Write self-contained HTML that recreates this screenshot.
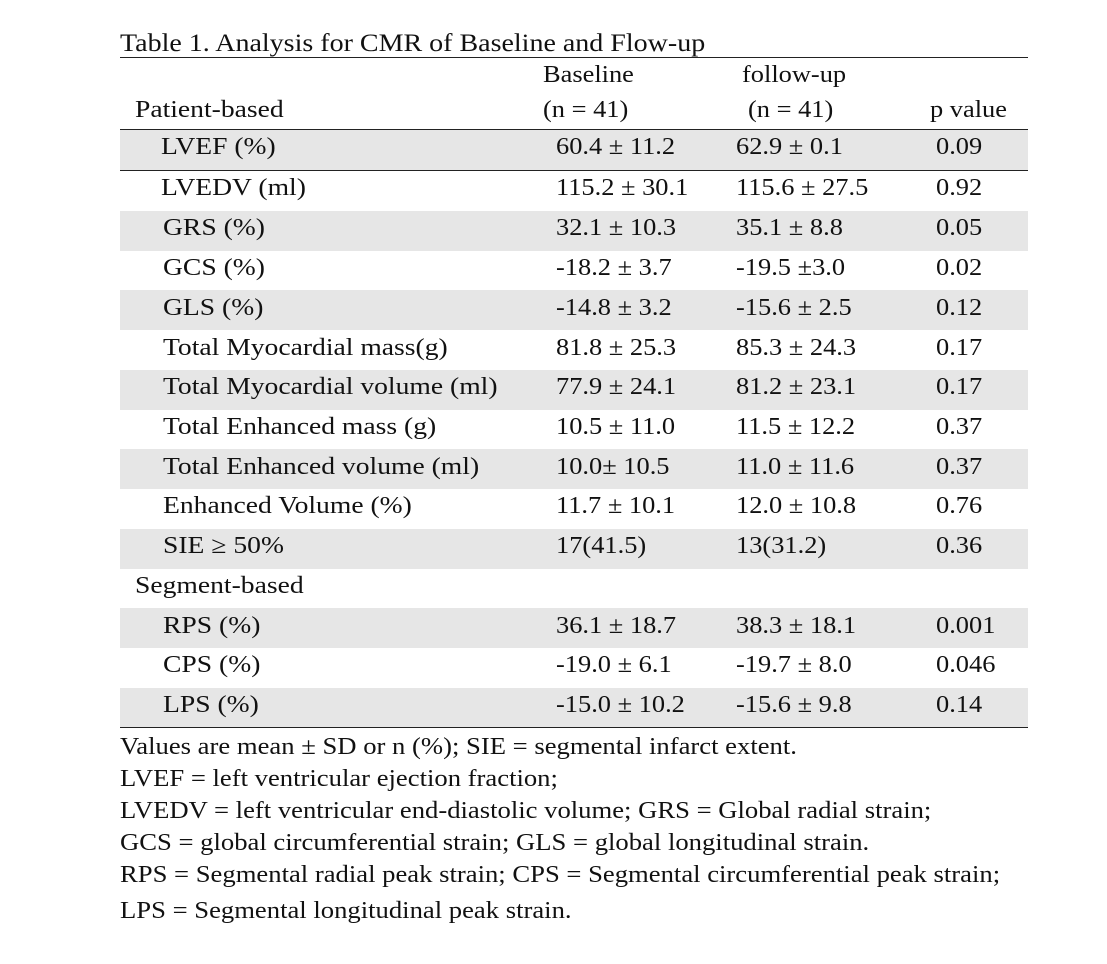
<!DOCTYPE html>
<html><head><style>
body{margin:0;background:#fff;width:1107px;height:964px;position:relative;font-family:"Liberation Serif",serif;color:#111;overflow:hidden}
.t{position:absolute;font-size:24px;white-space:nowrap;line-height:1;transform:scaleX(1.1);transform-origin:0 0}
.l{transform:scaleX(1.15)}
.f{transform:scaleX(1.11)}
.sh{position:absolute;left:120px;width:908px;background:#e6e6e6}
.ln{position:absolute;left:120px;width:908px;height:1.3px;background:#222}
</style></head><body>
<div class="t" style="left:120px;top:31px;font-size:25px;transform:scaleX(1.12)">Table 1. Analysis for CMR of Baseline and Flow-up</div>
<div class="ln" style="top:57px"></div>
<div class="t" style="left:543px;top:63px">Baseline</div>
<div class="t" style="left:742px;top:63px">follow-up</div>
<div class="t l" style="left:135px;top:98px">Patient-based</div>
<div class="t" style="left:543px;top:98px">(n = 41)</div>
<div class="t" style="left:748px;top:98px">(n = 41)</div>
<div class="t" style="left:930px;top:98px">p value</div>
<div class="ln" style="top:129px"></div>
<div class="sh" style="top:130px;height:40px"></div>
<div class="ln" style="top:170px"></div>
<div class="sh" style="top:211px;height:40px"></div>
<div class="sh" style="top:290px;height:40px"></div>
<div class="sh" style="top:370px;height:40px"></div>
<div class="sh" style="top:449px;height:40px"></div>
<div class="sh" style="top:529px;height:40px"></div>
<div class="sh" style="top:608px;height:40px"></div>
<div class="sh" style="top:688px;height:39px"></div>
<div class="ln" style="top:727px"></div>

<div class="t l" style="left:161px;top:135px">LVEF (%)</div><div class="t" style="left:556px;top:135px">60.4 ± 11.2</div><div class="t" style="left:736px;top:135px">62.9 ± 0.1</div><div class="t" style="left:936px;top:135px">0.09</div>
<div class="t l" style="left:161px;top:176px">LVEDV (ml)</div><div class="t" style="left:556px;top:176px">115.2 ± 30.1</div><div class="t" style="left:736px;top:176px">115.6 ± 27.5</div><div class="t" style="left:936px;top:176px">0.92</div>
<div class="t l" style="left:163px;top:216px">GRS (%)</div><div class="t" style="left:556px;top:216px">32.1 ± 10.3</div><div class="t" style="left:736px;top:216px">35.1 ± 8.8</div><div class="t" style="left:936px;top:216px">0.05</div>
<div class="t l" style="left:163px;top:256px">GCS (%)</div><div class="t" style="left:556px;top:256px">-18.2 ± 3.7</div><div class="t" style="left:736px;top:256px">-19.5 ±3.0</div><div class="t" style="left:936px;top:256px">0.02</div>
<div class="t l" style="left:163px;top:296px">GLS (%)</div><div class="t" style="left:556px;top:296px">-14.8 ± 3.2</div><div class="t" style="left:736px;top:296px">-15.6 ± 2.5</div><div class="t" style="left:936px;top:296px">0.12</div>
<div class="t l" style="left:163px;top:336px">Total Myocardial mass(g)</div><div class="t" style="left:556px;top:336px">81.8 ± 25.3</div><div class="t" style="left:736px;top:336px">85.3 ± 24.3</div><div class="t" style="left:936px;top:336px">0.17</div>
<div class="t l" style="left:163px;top:375px">Total Myocardial volume (ml)</div><div class="t" style="left:556px;top:375px">77.9 ± 24.1</div><div class="t" style="left:736px;top:375px">81.2 ± 23.1</div><div class="t" style="left:936px;top:375px">0.17</div>
<div class="t l" style="left:163px;top:415px">Total Enhanced mass (g)</div><div class="t" style="left:556px;top:415px">10.5 ± 11.0</div><div class="t" style="left:736px;top:415px">11.5 ± 12.2</div><div class="t" style="left:936px;top:415px">0.37</div>
<div class="t l" style="left:163px;top:455px">Total Enhanced volume (ml)</div><div class="t" style="left:556px;top:455px">10.0± 10.5</div><div class="t" style="left:736px;top:455px">11.0 ± 11.6</div><div class="t" style="left:936px;top:455px">0.37</div>
<div class="t l" style="left:163px;top:494px">Enhanced Volume (%)</div><div class="t" style="left:556px;top:494px">11.7 ± 10.1</div><div class="t" style="left:736px;top:494px">12.0 ± 10.8</div><div class="t" style="left:936px;top:494px">0.76</div>
<div class="t l" style="left:163px;top:534px">SIE ≥ 50%</div><div class="t" style="left:556px;top:534px">17(41.5)</div><div class="t" style="left:736px;top:534px">13(31.2)</div><div class="t" style="left:936px;top:534px">0.36</div>
<div class="t l" style="left:135px;top:574px">Segment-based</div>
<div class="t l" style="left:163px;top:614px">RPS (%)</div><div class="t" style="left:556px;top:614px">36.1 ± 18.7</div><div class="t" style="left:736px;top:614px">38.3 ± 18.1</div><div class="t" style="left:936px;top:614px">0.001</div>
<div class="t l" style="left:163px;top:653px">CPS (%)</div><div class="t" style="left:556px;top:653px">-19.0 ± 6.1</div><div class="t" style="left:736px;top:653px">-19.7 ± 8.0</div><div class="t" style="left:936px;top:653px">0.046</div>
<div class="t l" style="left:163px;top:693px">LPS (%)</div><div class="t" style="left:556px;top:693px">-15.0 ± 10.2</div><div class="t" style="left:736px;top:693px">-15.6 ± 9.8</div><div class="t" style="left:936px;top:693px">0.14</div>

<div class="t f" style="left:120px;top:735px">Values are mean ± SD or n (%); SIE = segmental infarct extent.</div>
<div class="t f" style="left:120px;top:767px">LVEF = left ventricular ejection fraction;</div>
<div class="t f" style="left:120px;top:799px">LVEDV = left ventricular end-diastolic volume; GRS = Global radial strain;</div>
<div class="t f" style="left:120px;top:831px">GCS = global circumferential strain; GLS = global longitudinal strain.</div>
<div class="t f" style="left:120px;top:863px">RPS = Segmental radial peak strain; CPS = Segmental circumferential peak strain;</div>
<div class="t f" style="left:120px;top:899px">LPS = Segmental longitudinal peak strain.</div>
</body></html>
